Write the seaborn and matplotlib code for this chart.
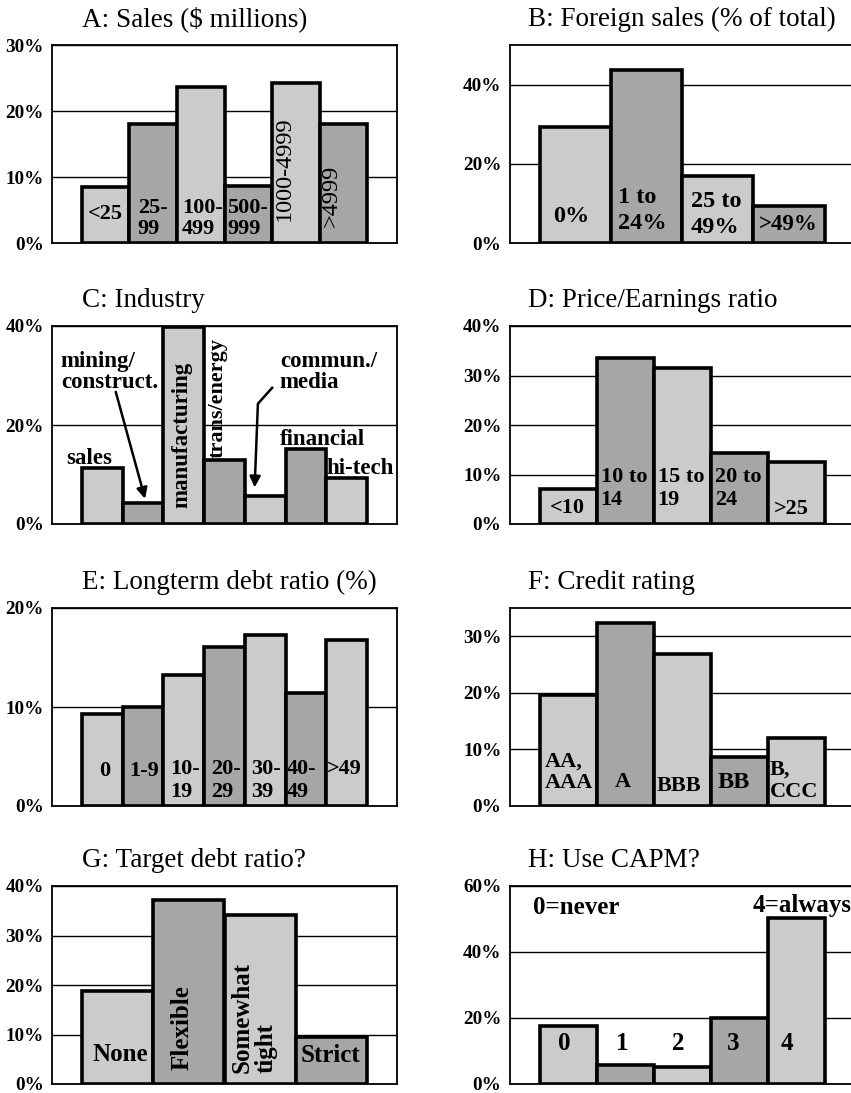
import matplotlib
matplotlib.use("Agg")
import matplotlib.pyplot as plt
from matplotlib.ticker import FuncFormatter
import pandas as pd
import seaborn as sns

# ---------------- data ----------------
a_cats = ["<25", "25-\n99", "100-\n499", "500-\n999", "1000-4999", ">4999"]
a_vals = [8.5, 18.0, 23.7, 8.7, 24.2, 18.0]

b_cats = ["0%", "1 to\n24%", "25 to\n49%", ">49%"]
b_vals = [29.4, 43.8, 17.0, 9.4]

c_cats = ["sales", "mining/\nconstruct.", "manufacturing", "trans/energy",
          "commun./\nmedia", "financial", "hi-tech"]
c_vals = [11.4, 4.2, 39.8, 13.0, 5.7, 15.1, 9.3]

d_cats = ["<10", "10 to\n14", "15 to\n19", "20 to\n24", ">25"]
d_vals = [7.0, 33.6, 31.6, 14.4, 12.5]

e_cats = ["0", "1-9", "10-\n19", "20-\n29", "30-\n39", "40-\n49", ">49"]
e_vals = [9.3, 10.0, 13.2, 16.1, 17.25, 11.45, 16.8]

f_cats = ["AA,\nAAA", "A", "BBB", "BB", "B,\nCCC"]
f_vals = [19.7, 32.4, 26.8, 8.6, 12.1]

g_cats = ["None", "Flexible", "Somewhat\ntight", "Strict"]
g_vals = [18.8, 37.2, 34.2, 9.4]

h_cats = ["0", "1", "2", "3", "4"]
h_vals = [17.7, 5.8, 5.1, 20.0, 50.3]
h_notes = ["0=never", "4=always"]

titles = ["A: Sales ($ millions)", "B: Foreign sales (% of total)",
          "C: Industry", "D: Price/Earnings ratio",
          "E: Longterm debt ratio (%)", "F: Credit rating",
          "G: Target debt ratio?", "H: Use CAPM?"]
y_max = [30, 50, 40, 40, 20, 35, 40, 60]
y_ticks = [[0, 10, 20, 30], [0, 20, 40], [0, 20, 40], [0, 10, 20, 30, 40],
           [0, 10, 20], [0, 10, 20, 30], [0, 10, 20, 30, 40], [0, 20, 40, 60]]

# ---------------- style ----------------
LIGHT = "#cbcbcb"
DARK = "#a6a6a6"
sns.set_style("white")
plt.rcParams["font.family"] = ["Liberation Serif", "DejaVu Serif"]
plt.rcParams["text.color"] = "black"
plt.rcParams["ytick.color"] = "black"
plt.rcParams["xtick.color"] = "black"
plt.rcParams["axes.labelcolor"] = "black"

W, H = 851, 1093
fig = plt.figure(figsize=(W / 100, H / 100), dpi=100)

col_left = [52, 509.7]
row_top = [45, 326, 608, 886]
ax_w, ax_h = 345, 198

all_cats = [a_cats, b_cats, c_cats, d_cats, e_cats, f_cats, g_cats, h_cats]
all_vals = [a_vals, b_vals, c_vals, d_vals, e_vals, f_vals, g_vals, h_vals]

axes = []
for k in range(8):
    r, c = divmod(k, 2)
    left = col_left[c] / W
    bottom = 1 - (row_top[r] + ax_h) / H
    ax = fig.add_axes([left, bottom, ax_w / W, ax_h / H])
    cats, vals = all_cats[k], all_vals[k]
    n = len(cats)
    df = pd.DataFrame({"cat": cats, "val": vals})
    pal = [LIGHT if i % 2 == 0 else DARK for i in range(n)]
    sns.barplot(data=df, x="cat", y="val", hue="cat", palette=pal, legend=False,
                width=1.0, edgecolor="black", linewidth=2.6, saturation=1, ax=ax)
    m = 0.105 * n
    ax.set_xlim(-0.5 - m, n - 0.5 + m)
    ax.set_ylim(0, y_max[k])
    ax.set_yticks(y_ticks[k])
    ax.yaxis.set_major_formatter(FuncFormatter(lambda v, p: f"{v:.0f}%"))
    ax.set_xticks([])
    ax.set_xlabel("")
    ax.set_ylabel("")
    ax.tick_params(axis="y", length=0, pad=6, labelsize=13.8, colors="black")
    for t in ax.get_yticklabels():
        t.set_fontweight("bold")
    ax.yaxis.grid(True, color="black", linewidth=1.0)
    ax.set_axisbelow(True)
    for s in ax.spines.values():
        s.set_visible(True)
        s.set_color("black")
        s.set_linewidth(1.3)
    # title, left aligned
    tx = (82 if c == 0 else 527.5) / W
    ty = 1 - (row_top[r] - 19) / H
    fig.text(tx, ty, titles[k], fontsize=19.5, va="baseline", ha="left",
             color="black")
    axes.append(ax)


def lab(ax, text, x, y, size=16, ha="center", va="center", rot=0, ls=1.15,
        weight="bold", ma="left"):
    ax.text(x, y, text, fontsize=size, ha=ha, va=va, rotation=rot,
            linespacing=ls, fontweight=weight, multialignment=ma,
            color="black")


# A
ax = axes[0]
lab(ax, a_cats[0], 0.0, 4.4)
lab(ax, a_cats[1], 0.675, 6.8, ha="left", va="top", ls=1.08)
lab(ax, a_cats[2], 1.61, 6.8, ha="left", va="top", ls=1.08)
lab(ax, a_cats[3], 2.55, 6.8, ha="left", va="top", ls=1.08)
lab(ax, a_cats[4], 3.76, 11.2, size=17.5, rot=90, weight="normal")
lab(ax, a_cats[5], 4.74, 7.1, size=17.5, rot=90, weight="normal")

# B
ax = axes[1]
lab(ax, b_cats[0], -0.06, 6.7, size=17.5)
lab(ax, b_cats[1], 0.595, 14.2, size=17.5, ha="left", va="top", ls=1.3)
lab(ax, b_cats[2], 1.62, 13.2, size=17.5, ha="left", va="top", ls=1.3)
lab(ax, b_cats[3], 2.57, 4.6, size=16.5, ha="left")

# C
ax = axes[2]
lab(ax, c_cats[0], -0.32, 12.2, size=16.5, va="baseline")
lab(ax, c_cats[1], -1.02, 35.0, size=16.5, ha="left", va="top", ls=1.0)
lab(ax, c_cats[2], 1.96, 18.1, size=16.5, rot=90)
lab(ax, c_cats[3], 2.83, 13.4, size=16, rot=90, va="bottom")
lab(ax, c_cats[4], 4.36, 35.0, size=16.5, ha="left", va="top", ls=1.0)
lab(ax, c_cats[5], 4.37, 16.0, size=16.5, ha="left", va="baseline")
lab(ax, c_cats[6], 5.51, 10.0, size=16.5, ha="left", va="baseline")
ax.annotate("", xy=(1.05, 5.1), xytext=(0.33, 26.7),
            arrowprops=dict(arrowstyle="-|>", color="black", lw=1.8,
                            mutation_scale=16, shrinkA=0, shrinkB=0))
ax.plot([4.19, 3.82], [27.7, 24.3], color="black", lw=1.8, solid_capstyle="butt")
ax.annotate("", xy=(3.74, 7.4), xytext=(3.82, 24.3),
            arrowprops=dict(arrowstyle="-|>", color="black", lw=1.8,
                            mutation_scale=16, shrinkA=0, shrinkB=0))

# D
ax = axes[3]
lab(ax, d_cats[0], -0.01, 3.2)
lab(ax, d_cats[1], 0.57, 11.6, ha="left", va="top", ls=1.2)
lab(ax, d_cats[2], 1.57, 11.6, ha="left", va="top", ls=1.2)
lab(ax, d_cats[3], 2.58, 11.6, ha="left", va="top", ls=1.2)
lab(ax, d_cats[4], 3.92, 3.0)

# E
ax = axes[4]
lab(ax, e_cats[0], 0.05, 3.5)
lab(ax, e_cats[1], 1.02, 3.5)
for i, xx in zip(range(2, 7), [1.67, 2.68, 3.66, 4.53, 5.52]):
    lab(ax, e_cats[i], xx, 4.7, ha="left", va="top", ls=1.15)

# F
ax = axes[5]
lab(ax, f_cats[0], -0.41, 9.7, ha="left", va="top", ls=1.15)
lab(ax, f_cats[1], 0.96, 4.2)
lab(ax, f_cats[2], 1.95, 3.6)
lab(ax, f_cats[3], 2.91, 4.2, size=17.5)
lab(ax, f_cats[4], 3.53, 8.2, ha="left", va="top", ls=1.15)

# G
ax = axes[6]
lab(ax, g_cats[0], 0.036, 5.9, size=18)
lab(ax, g_cats[1], 0.91, 11.5, size=18, rot=90)
lab(ax, g_cats[2], 1.91, 2.2, size=18, rot=90, va="bottom", ls=1.05)
lab(ax, g_cats[3], 2.99, 5.7, size=18)

# H
ax = axes[7]
lab(ax, h_notes[0], -0.61, 53.6, size=18, ha="left")
lab(ax, h_notes[1], 3.24, 54.0, size=18, ha="left")
for i, xx in enumerate([-0.07, 0.94, 1.93, 2.89, 3.84]):
    lab(ax, h_cats[i], xx, 12.3, size=18)

fig.savefig("out.png", dpi=100)
